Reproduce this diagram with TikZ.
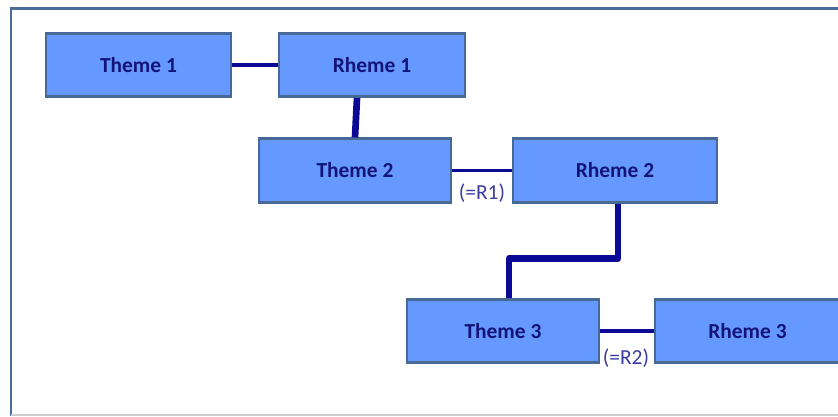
\documentclass[tikz,border=0pt]{standalone}
\usepackage{fontspec}
\setmainfont{Carlito}
\definecolor{boxfill}{RGB}{102,153,255}
\definecolor{boxline}{RGB}{70,105,150}
\definecolor{linkcol}{RGB}{10,10,150}
\definecolor{txtcol}{RGB}{20,20,120}
\definecolor{labcol}{RGB}{60,60,160}
\definecolor{framecol}{RGB}{74,109,154}
\tikzset{tr/.style={draw=boxline,line width=1.5pt,fill=boxfill,inner sep=0pt,
    minimum height=1.27cm,text=txtcol,font=\fontsize{12.2}{14}\selectfont\bfseries},
  thin/.style={linkcol,line width=2pt},
  thick/.style={linkcol,line width=3.8pt,line join=round},
  lab/.style={text=labcol,font=\fontsize{12.2}{14}\selectfont}}
\begin{document}
\begin{tikzpicture}[x=0.02cm,y=-0.02cm]
  \useasboundingbox (0,0) rectangle (838,416);
  \draw[framecol,line width=1.4pt] (838,8.5) -- (11,8.5) -- (11,416);
  \draw[black!20,line width=0.8pt] (11,415) -- (838,415);
  \node[tr,minimum width=3.7cm] (t1) at (138.5,65) {Theme 1};
  \node[tr,minimum width=3.72cm] (r1) at (372,65) {Rheme 1};
  \node[tr,minimum width=3.84cm] (t2) at (355,170.5) {Theme 2};
  \node[tr,minimum width=4.08cm] (r2) at (615,170.5) {Rheme 2};
  \node[tr,minimum width=3.84cm] (t3) at (503,331) {Theme 3};
  \node[tr,minimum width=3.7cm] (r3) at (747.5,331) {Rheme 3};
  \draw[thin] (t1.east) -- (r1.west); \draw[thin] (t2.east) --
  (r2.west); \draw[thin] (t3.east) -- (r3.west);
  \draw[thick] ([xshift=-0.3cm]r1.south) -- (t2.north);
  \draw[thick] ([xshift=0.06cm]r2.south) -- ++(0,55) -|
  ([xshift=0.12cm]t3.north);
  \node[lab] (l1) at (482,193) {(=R1)}; \node[lab] (l2) at (626,358)
  {(=R2)};
\end{tikzpicture}
\end{document}
